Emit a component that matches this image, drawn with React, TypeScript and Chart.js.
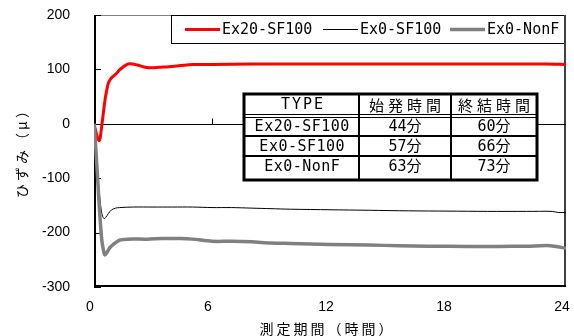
import React, { useEffect, useRef } from 'react';
import { Chart, registerables } from 'chart.js';

Chart.register(...registerables);

const seriesNames = ['Ex20-SF100', 'Ex0-SF100', 'Ex0-NonF'];

const redHours = [0, 0.08, 0.18, 0.27, 0.33, 0.39, 0.47, 0.56, 0.65, 0.73, 0.82, 0.9, 1.1, 1.3, 1.5, 1.73, 1.95, 2.2, 2.6, 3.0, 3.3, 3.8, 4.4, 5, 6, 8, 10, 12, 14, 16, 18, 20, 22, 23, 24];
const redValues = [0, -12, -26, -31, -22, -5, 18, 44, 62, 75, 81, 85, 91, 99, 105, 110, 110, 108, 104, 103, 104, 105, 107, 109, 109, 110, 110, 110, 110, 110, 110, 110, 110, 110, 109];

const blackHours = [0, 0.1, 0.2, 0.3, 0.4, 0.5, 0.6, 0.73, 0.9, 1.1, 1.3, 2, 3, 4, 5, 6, 7, 8, 9, 10, 12, 14, 16, 18, 20, 22, 23.3, 23.6, 24];
const blackValues = [0, -45, -95, -138, -165, -174, -172, -165, -158, -155, -154, -153, -153, -153, -153, -154, -154, -155, -156, -157, -158, -159, -160, -160.5, -161, -161, -161, -163, -163];

const grayHours = [0, 0.1, 0.2, 0.3, 0.4, 0.5, 0.56, 0.65, 0.8, 0.97, 1.3, 1.7, 2.7, 3.5, 4.4, 5, 6, 7, 8, 9, 10, 12, 14, 15.5, 17, 19, 20.6, 22, 23.2, 24];
const grayValues = [0, -50, -110, -170, -215, -236, -241, -237, -228, -222, -214, -212, -212, -211, -211, -212, -216, -216, -217, -219, -220, -222, -223, -224, -225, -225.5, -225.5, -225, -224, -229];

const xTickValues = [0, 6, 12, 18, 24];
const yTickValues = [-300, -200, -100, 0, 100, 200];

const xTitle = '測定期間（時間）';
const yTitle = 'ひずみ（μ）';

const tableHeader = ['TYPE', '始発時間', '終結時間'];
const tableTypes = ['Ex20-SF100', 'Ex0-SF100', 'Ex0-NonF'];
const tableStart = ['44分', '57分', '63分'];
const tableEnd = ['60分', '66分', '73分'];

const seriesColors = ['#ff0000', '#000000', '#808080'];
const seriesWidths = [3, 1, 3.5];

function toPoints(hours: number[], values: number[]) {
  return hours.map((h, i) => ({ x: h, y: values[i] }));
}

const MONO = "'DejaVu Sans Mono', 'Noto Sans CJK JP'";
const CJK = "'Noto Sans CJK JP'";

function drawText(ctx: CanvasRenderingContext2D, text: string, x: number, y: number, font: string, spacing: number, align: CanvasTextAlign = 'center') {
  ctx.save();
  ctx.font = font;
  (ctx as any).letterSpacing = spacing + 'px';
  ctx.textBaseline = 'middle';
  ctx.fillStyle = '#000';
  const w = ctx.measureText(text).width;
  let sx = x;
  if (align === 'center') sx = x - (w - spacing) / 2;
  else if (align === 'right') sx = x - w;
  ctx.textAlign = 'left';
  ctx.fillText(text, sx, y);
  ctx.restore();
}

function zeroPad(s: any) {
  s.paddingLeft = 0;
  s.paddingRight = 0;
  s.paddingTop = 0;
  s.paddingBottom = 0;
}

const decorPlugin = {
  id: 'decor',
  beforeDatasetsDraw(chart: any) {
    const ctx = chart.ctx as CanvasRenderingContext2D;
    const { left, right, top, bottom } = chart.chartArea;
    const xs = chart.scales.x;
    const ys = chart.scales.y;
    ctx.save();
    ctx.strokeStyle = '#808080';
    ctx.lineWidth = 1;
    ctx.beginPath();
    ctx.moveTo(left, top + 0.5);
    ctx.lineTo(right, top + 0.5);
    ctx.stroke();
    ctx.strokeStyle = '#404040';
    ctx.lineWidth = 2;
    ctx.beginPath();
    ctx.moveTo(right - 1, top);
    ctx.lineTo(right - 1, bottom);
    ctx.stroke();
    ctx.strokeStyle = '#000';
    ctx.lineWidth = 2;
    ctx.beginPath();
    ctx.moveTo(left, bottom - 1);
    ctx.lineTo(right, bottom - 1);
    ctx.stroke();
    ctx.beginPath();
    ctx.moveTo(left + 1, top);
    ctx.lineTo(left + 1, bottom);
    ctx.stroke();
    ctx.lineWidth = 1;
    for (const v of yTickValues) {
      const py = Math.round(ys.getPixelForValue(v)) + 0.5;
      ctx.beginPath();
      ctx.moveTo(left, py);
      ctx.lineTo(left + 7, py);
      ctx.stroke();
    }
    const y0 = Math.round(ys.getPixelForValue(0)) + 0.5;
    ctx.beginPath();
    ctx.moveTo(left, y0);
    ctx.lineTo(right, y0);
    ctx.stroke();
    for (const v of xTickValues) {
      if (v === 0 || v === 24) continue;
      const px = Math.round(xs.getPixelForValue(v)) + 0.5;
      ctx.beginPath();
      ctx.moveTo(px, y0);
      ctx.lineTo(px, y0 - 6);
      ctx.stroke();
    }
    ctx.restore();
  },
  afterDraw(chart: any) {
    const ctx = chart.ctx as CanvasRenderingContext2D;
    const { right, top, bottom } = chart.chartArea;
    ctx.save();
    const lx0 = 171, ly0 = top, lx1 = right - 1, ly1 = 43;
    ctx.fillStyle = '#fff';
    ctx.fillRect(lx0, ly0, lx1 - lx0, ly1 - ly0);
    ctx.strokeStyle = '#000';
    ctx.lineWidth = 1;
    ctx.strokeRect(lx0 + 0.5, ly0 + 0.5, lx1 - lx0, ly1 - ly0);
    ctx.strokeStyle = '#404040';
    ctx.lineWidth = 2;
    ctx.beginPath();
    ctx.moveTo(right - 1, top);
    ctx.lineTo(right - 1, ly1 + 1);
    ctx.stroke();
    const lineStarts = [185, 323, 450];
    const ly = 29;
    seriesNames.forEach((name, i) => {
      ctx.strokeStyle = seriesColors[i];
      ctx.lineWidth = seriesWidths[i];
      ctx.beginPath();
      ctx.moveTo(lineStarts[i], ly + 0.5);
      ctx.lineTo(lineStarts[i] + 35, ly + 0.5);
      ctx.stroke();
      drawText(ctx, name, lineStarts[i] + 37, ly + 1, `15px ${MONO}`, 0, 'left');
    });

    const tx0 = 244, tx1 = 537, ty0 = 94, ty1 = 180;
    const cols = [tx0, 359, 451, tx1];
    ctx.fillStyle = '#fff';
    ctx.fillRect(tx0, ty0, tx1 - tx0, ty1 - ty0);
    ctx.strokeStyle = '#000';
    ctx.lineWidth = 1;
    ctx.beginPath();
    ctx.moveTo(tx0, 114.5); ctx.lineTo(tx1, 114.5);
    ctx.moveTo(tx0, 117.5); ctx.lineTo(tx1, 117.5);
    ctx.stroke();
    ctx.lineWidth = 2;
    ctx.beginPath();
    ctx.moveTo(tx0, 136); ctx.lineTo(tx1, 136);
    ctx.moveTo(tx0, 156); ctx.lineTo(tx1, 156);
    ctx.moveTo(cols[1], ty0); ctx.lineTo(cols[1], ty1);
    ctx.moveTo(cols[2], ty0); ctx.lineTo(cols[2], ty1);
    ctx.stroke();
    ctx.lineWidth = 3;
    ctx.strokeRect(tx0, ty0, tx1 - tx0, ty1 - ty0);

    const colCenters = [302, 405, 494];
    const rowCenters = [104, 126, 146, 166];
    drawText(ctx, tableHeader[0], colCenters[0], rowCenters[0] + 1, `15px ${MONO}`, 2);
    drawText(ctx, tableHeader[1], colCenters[1], rowCenters[0] + 1, `15px ${CJK}`, 4);
    drawText(ctx, tableHeader[2], colCenters[2], rowCenters[0] + 1, `15px ${CJK}`, 4);
    for (let r = 0; r < 3; r++) {
      const cy = rowCenters[r + 1] + 1;
      drawText(ctx, tableTypes[r], colCenters[0], cy, `15px ${MONO}`, 0.5);
      drawText(ctx, tableStart[r], colCenters[1], cy, `15px ${MONO}`, 0);
      drawText(ctx, tableEnd[r], colCenters[2], cy, `15px ${MONO}`, 0);
    }

    drawText(ctx, xTitle, 326, 329, `14px ${CJK}`, 3);
    ctx.save();
    ctx.translate(22, (top + bottom) / 2);
    ctx.rotate(-Math.PI / 2);
    drawText(ctx, yTitle, 0, 0, `14px ${CJK}`, 3);
    ctx.restore();
    ctx.restore();
  },
};

export default function App() {
  const ref = useRef<HTMLCanvasElement | null>(null);
  useEffect(() => {
    document.body.style.margin = '0';
    const canvas = ref.current!;
    const chart = new Chart(canvas, {
      type: 'line',
      data: {
        datasets: [
          {
            label: seriesNames[2],
            data: toPoints(grayHours, grayValues),
            borderColor: seriesColors[2],
            borderWidth: seriesWidths[2],
            pointRadius: 0,
            tension: 0.3,
          },
          {
            label: seriesNames[1],
            data: toPoints(blackHours, blackValues),
            borderColor: seriesColors[1],
            borderWidth: seriesWidths[1],
            pointRadius: 0,
            tension: 0.3,
          },
          {
            label: seriesNames[0],
            data: toPoints(redHours, redValues),
            borderColor: seriesColors[0],
            borderWidth: seriesWidths[0],
            pointRadius: 0,
            tension: 0.3,
          },
        ],
      },
      options: {
        responsive: false,
        animation: false,
        layout: { padding: { left: 0, top: 15, right: 8, bottom: 0 } },
        plugins: { legend: { display: false }, tooltip: { enabled: false } },
        scales: {
          x: {
            type: 'linear',
            min: 0,
            max: 24,
            afterFit: (s: any) => { s.height = 49; zeroPad(s); },
            afterBuildTicks: (s: any) => { s.ticks = xTickValues.map((v) => ({ value: v })); },
            grid: { display: false, drawTicks: false },
            border: { display: false },
            ticks: { padding: 12, labelOffset: -4, color: '#000', font: { family: 'Liberation Sans', size: 14 } },
          },
          y: {
            type: 'linear',
            min: -300,
            max: 200,
            afterFit: (s: any) => { s.width = 94; zeroPad(s); },
            afterBuildTicks: (s: any) => { s.ticks = yTickValues.map((v) => ({ value: v })); },
            grid: { display: false, drawTicks: false },
            border: { display: false },
            ticks: { padding: 24, color: '#000', font: { family: 'Liberation Sans', size: 14 } },
          },
        },
      },
      plugins: [decorPlugin],
    });
    return () => chart.destroy();
  }, []);
  return (
    <div style={{ width: 574, height: 336, position: 'relative' }}>
      <canvas ref={ref} width={574} height={336} style={{ display: 'block' }} />
    </div>
  );
}
